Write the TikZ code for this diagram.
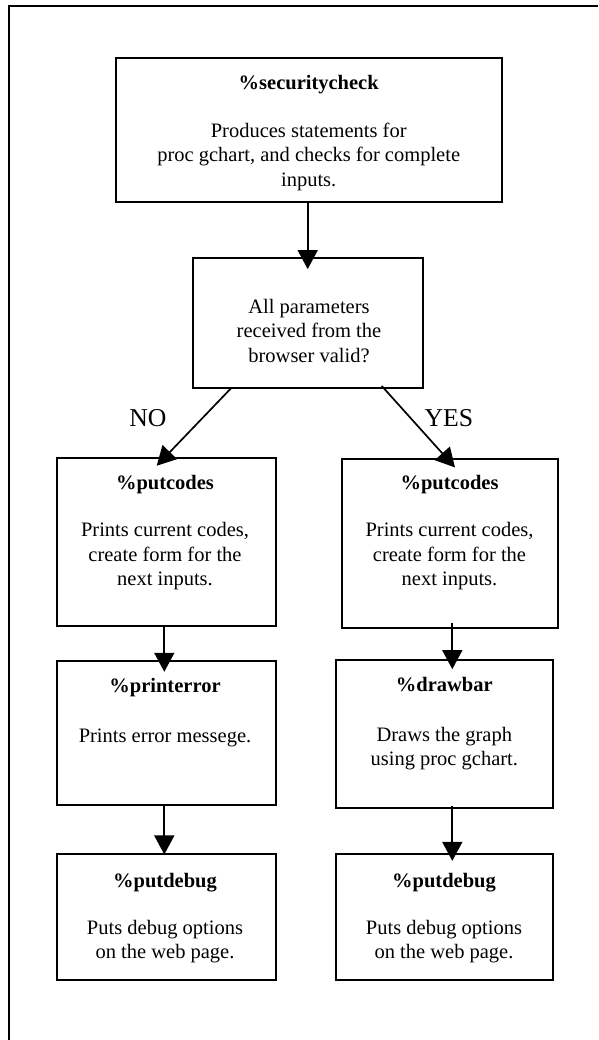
\documentclass[tikz,border=0pt]{standalone}
\usepackage{fontspec}
\setmainfont{Liberation Serif}
\usetikzlibrary{arrows.meta}
\newcommand\mystrut{\rule{0pt}{16pt}}
\begin{document}
\begin{tikzpicture}[x=1pt,y=-1pt,
  box/.style={draw, line width=1.8pt, inner sep=0pt},
  txt/.style={font=\fontsize{20.5pt}{24.5pt}\selectfont, align=center, inner sep=0pt, anchor=north},
  lab/.style={font=\fontsize{25.7pt}{30pt}\selectfont, inner sep=0pt, anchor=base},
  arr/.style={line width=1.7pt, -{Triangle[width=20pt,length=19pt]}}]
\useasboundingbox (0,0) rectangle (598,1040);
% frame
\draw[line width=1.8pt] (598,6) -- (9,6) -- (9,1041);
% boxes
\node[box, minimum width=386pt, minimum height=144pt] (sec) at (308.7,130.3) {};
\node[box, minimum width=230.3pt, minimum height=130pt] (dec) at (307.8,322.7) {};
\node[box, minimum width=219pt, minimum height=168.3pt] (pcL) at (166.2,541.8) {};
\node[box, minimum width=216pt, minimum height=169.3pt] (pcR) at (450.3,543.7) {};
\node[box, minimum width=219pt, minimum height=144pt] (peL) at (166.2,733) {};
\node[box, minimum width=217.3pt, minimum height=148.3pt] (dbR) at (444.7,734.2) {};
\node[box, minimum width=219pt, minimum height=125.7pt] (pdL) at (166.2,917.2) {};
\node[box, minimum width=217.3pt, minimum height=125.7pt] (pdR) at (444.7,917.2) {};
% texts
\node[txt] (secT) at (308.7,73.3) {\mystrut\textbf{\%securitycheck}\\[23.5pt]Produces statements for\\proc gchart, and checks for complete\\inputs.};
\node[txt] (decT) at (309,297) {\mystrut All parameters\\received from the\\browser valid?};
\node[txt] (pcLT) at (165,473.5) {\mystrut\textbf{\%putcodes}\\[22.5pt]Prints current codes,\\create form for the\\next inputs.};
\node[txt] (pcRT) at (449.5,473.5) {\mystrut\textbf{\%putcodes}\\[22.5pt]Prints current codes,\\create form for the\\next inputs.};
\node[txt] (peLT) at (165,676) {\mystrut\textbf{\%printerror}\\[25.5pt]Prints error messege.};
\node[txt] (dbRT) at (444.3,675) {\mystrut\textbf{\%drawbar}\\[25.5pt]Draws the graph\\using proc gchart.};
\node[txt] (pdLT) at (165,871) {\mystrut\textbf{\%putdebug}\\[22.5pt]Puts debug options\\on the web page.};
\node[txt] (pdRT) at (444,871) {\mystrut\textbf{\%putdebug}\\[22.5pt]Puts debug options\\on the web page.};
\node[lab] (no) at (148,426.8) {NO};
\node[lab] (yes) at (448.8,426.8) {YES};
% connectors
\draw[arr] ([xshift=-1pt]sec.south) -- ([xshift=-0.1pt,yshift=-12.3pt]dec.north);
\draw[arr] ([xshift=-77.1pt]dec.south) -- ([xshift=-9.5pt,yshift=-9pt]pcL.north);
\draw[arr] ([xshift=73.9pt,yshift=2.7pt]dec.south) -- ([xshift=4.7pt,yshift=-9.3pt]pcR.north);
\draw[arr] ([xshift=-1.9pt]pcL.south) -- ([xshift=-1.9pt,yshift=-11.7pt]peL.north);
\draw[arr] ([xshift=2pt,yshift=6.6pt]pcR.south) -- ([xshift=7.6pt,yshift=-10pt]dbR.north);
\draw[arr] ([xshift=-1.9pt]peL.south) -- ([xshift=-1.9pt,yshift=-1pt]pdL.north);
\draw[arr] ([xshift=7.6pt,yshift=3.3pt]dbR.south) -- ([xshift=7.6pt,yshift=-7.4pt]pdR.north);
\end{tikzpicture}
\end{document}
